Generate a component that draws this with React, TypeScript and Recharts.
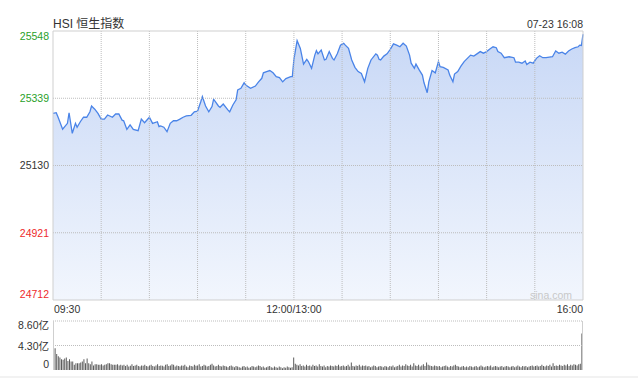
import React from 'react';
import { AreaChart, Area, XAxis, YAxis, ReferenceLine, BarChart, Bar } from 'recharts';

// ---- data ----
const minutes = [0,2,3,6,9,10,12,14,15,17,19,21,23,24,26,28,30,32,34,37,39,41,43,44,46,48,50,53,55,57,60,62,65,66,67,69,71,73,75,77,79,81,83,86,88,90,92,93,95,97,99,100,103,104,106,109,110,112,114,115,117,119,120,123,126,128,130,131,133,135,137,139,141,143,145,148,149,150,152,154,156,158,159,161,163,164,165,167,169,170,172,174,175,177,179,181,182,184,186,188,190,192,194,196,198,201,202,203,204,206,208,210,212,214,216,218,220,222,223,225,226,228,230,231,233,234,236,238,240,241,243,246,247,249,250,252,254,256,258,260,262,264,266,268,270,272,274,276,277,279,281,284,287,288,290,292,294,295,297,299,301,303,305,307,309,311,313,315,317,319,321,323,325,327,328,329,330];
const prices = [25292,25294,25282,25243,25261,25294,25230,25261,25249,25266,25280,25280,25297,25315,25305,25292,25274,25274,25287,25280,25290,25290,25271,25269,25242,25256,25242,25238,25274,25263,25280,25261,25266,25251,25253,25249,25235,25261,25269,25269,25274,25280,25284,25286,25297,25299,25328,25344,25315,25297,25313,25336,25315,25311,25321,25302,25297,25318,25334,25365,25370,25387,25380,25370,25377,25390,25401,25418,25422,25425,25418,25406,25403,25390,25400,25406,25406,25460,25518,25494,25445,25460,25453,25432,25473,25487,25477,25489,25458,25460,25484,25463,25458,25477,25504,25510,25504,25494,25458,25435,25422,25416,25390,25432,25458,25477,25473,25460,25458,25470,25477,25491,25508,25504,25499,25510,25501,25473,25448,25432,25445,25427,25411,25387,25356,25390,25425,25418,25453,25437,25435,25427,25411,25390,25414,25422,25439,25453,25463,25473,25470,25477,25484,25479,25484,25492,25499,25496,25484,25479,25465,25468,25465,25451,25451,25448,25455,25444,25451,25448,25463,25471,25465,25465,25467,25468,25486,25479,25482,25476,25486,25492,25496,25499,25504,25503,25538];

const prevClose = 25130;
const yTicks = [24712, 24921, 25130, 25339, 25548];
const pctLabels = ['-1.66%', '-0.83%', '0.00%', '+0.83%', '+1.66%'];
const xTicks = [0, 30, 60, 90, 120, 150, 180, 210, 240, 270, 300, 330];
const xLabels: Record<number, string> = { 0: '09:30', 150: '12:00/13:00', 330: '16:00' };

// volume in 亿, one bar per minute 09:30..16:00
const volumes = [
  8.6,
  3.8, 2.8, 2.4, 2.2, 1.9, 1.8, 2.0, 2.2, 1.6, 1.9, 1.5, 1.5, 0.9, 1.2,
  1.2, 1.2, 1.3, 1.5, 1.9, 1.2, 2.0, 1.2, 1.0, 1.5, 0.8, 1.0, 1.0, 0.9, 0.9,
  1.0, 0.8, 0.9, 1.0, 1.2, 1.2, 1.0, 0.9, 0.9, 0.9, 1.0, 0.8, 0.9, 0.8, 0.9,
  0.7, 0.9, 0.6, 0.75, 1.0, 0.7, 0.8, 0.9, 0.7, 0.6, 0.8, 0.75, 0.9, 0.7, 0.6,
  0.8, 0.9, 0.7, 0.6, 0.8, 1.0, 0.7, 0.8, 0.75, 0.6, 0.9, 1.0, 0.7, 0.8, 1.0,
  0.9, 0.6, 0.8, 0.7, 0.6, 0.8, 0.75, 0.9, 0.6, 0.5, 0.8, 0.7, 0.6, 0.9, 0.75,
  0.8, 1.0, 0.6, 0.7, 0.9, 0.8, 0.6, 0.7, 0.9, 1.1, 0.8, 0.6, 0.7, 0.9, 0.7,
  0.6, 0.8, 0.7, 0.6, 0.5, 0.7, 0.8, 0.6, 0.5, 0.7, 0.6, 0.5, 0.4, 0.6, 0.7,
  0.5, 0.6, 0.4, 0.5, 0.7, 0.6, 0.5, 0.6, 0.8, 0.7, 0.5, 0.6, 0.4, 0.5, 0.6,
  0.7, 0.5, 0.4, 0.6, 0.5, 0.4, 0.6, 0.5, 0.3, 0.5, 0.4, 0.6, 0.5, 0.4, 0.5,
  2.2, 1.1, 0.9, 0.8, 1.0, 0.7, 0.8, 0.6, 0.9, 0.7, 0.8, 0.6, 0.9, 0.7, 0.8,
  0.6, 1.0, 0.7, 0.6, 0.8, 0.5, 0.7, 0.6, 0.8, 0.7, 0.6, 0.8, 0.7, 0.9, 0.6,
  0.7, 0.8, 0.6, 0.7, 0.9, 0.6, 1.3, 0.7, 0.6, 0.8, 0.7, 0.9, 0.6, 0.8, 0.7,
  0.8, 0.6, 0.7, 0.5, 0.6, 0.8, 0.7, 0.5, 0.6, 0.7, 0.6, 0.5, 0.7, 0.6, 0.5,
  0.7, 0.6, 0.8, 0.5, 0.6, 0.7, 0.9, 0.6, 0.8, 0.7, 1.0, 0.8, 0.7, 0.9, 0.6,
  1.2, 0.8, 0.7, 0.9, 0.6, 0.8, 1.0, 0.7, 1.3, 0.9, 0.8, 0.7, 0.6, 0.8, 0.7,
  0.6, 0.7, 0.5, 0.6, 0.7, 0.8, 0.6, 0.5, 0.7, 0.6, 0.8, 0.9, 0.7, 0.6, 0.5,
  0.6, 0.7, 0.5, 0.6, 0.5, 0.7, 0.6, 0.5, 0.6, 0.7, 0.5, 0.6, 0.8, 0.6, 0.5,
  0.6, 0.7, 0.6, 0.8, 0.5, 0.6, 0.7, 0.6, 0.5, 0.6, 0.7, 0.5, 0.6, 0.7, 0.6,
  0.5, 0.6, 0.7, 0.5, 0.6, 0.8, 0.6, 0.5, 0.7, 0.6, 0.7, 0.5, 0.6, 0.7, 0.8,
  0.6, 0.7, 0.8, 0.6, 0.7, 0.9, 0.7, 0.6, 0.8, 0.7, 0.9, 0.6, 1.2, 0.7, 0.8,
  0.7, 0.9, 0.8, 0.7, 0.9, 0.8, 1.0, 0.7, 0.9, 0.8, 1.0, 0.9, 0.8, 1.0, 1.1,
  6.4,
];
const volTicks = [0, 4.3, 8.6];
const volLabels = ['0', '4.30亿', '8.60亿'];

const title = 'HSI 恒生指数';
const stamp = '07-23 16:08';
const watermark = 'sina.com';

// ---- styles ----
const FONT = "'Liberation Sans', Arial, 'Noto Sans CJK SC', sans-serif";
const GREEN = '#2a9f2a';
const RED = '#ee2b2b';
const DARK = '#333333';
const GRID = '#bdbdbd';
const FRAME = '#cfcfcf';
const LINE = '#4a84e8';
const FS = 10.5;

const W = 638;
const LEFT = 53;
const RIGHT_W = 55;
const TOP = 31;
const PLOT_BOTTOM = 300;

const priceData = minutes.map((m, i) => ({ m, p: prices[i] }));
const volData = volumes.map((v, i) => ({ i, v }));
const innerX = xTicks.slice(1, -1);
const innerY = yTicks.slice(1, -1);

const LeftTick = (props: any) => {
  const { y, payload } = props;
  const v = payload.value as number;
  const idx = yTicks.indexOf(v);
  const shift = idx === yTicks.length - 1 ? 5 : idx === 0 ? -6 : 0;
  const color = v > prevClose ? GREEN : v < prevClose ? RED : DARK;
  return (
    <text x={LEFT - 4} y={y + shift + 3.8} textAnchor="end" fill={color} fontSize={FS} fontFamily={FONT}>
      {String(v)}
    </text>
  );
};

const RightTick = (props: any) => {
  const { y, payload } = props;
  const v = payload.value as number;
  const idx = yTicks.indexOf(v);
  const shift = idx === yTicks.length - 1 ? 5 : idx === 0 ? -6 : 0;
  const color = v > prevClose ? GREEN : v < prevClose ? RED : DARK;
  return (
    <text x={W - RIGHT_W + 6.5} y={y + shift + 3.8} textAnchor="start" fill={color} fontSize={FS} fontFamily={FONT}>
      {pctLabels[idx]}
    </text>
  );
};

const BottomTick = (props: any) => {
  const { x, payload } = props;
  const v = payload.value as number;
  const label = xLabels[v];
  if (!label) return <g />;
  const anchor = v === 0 ? 'start' : v === 330 ? 'end' : 'middle';
  const dx = v === 0 ? 1 : 0;
  return (
    <text x={x + dx} y={PLOT_BOTTOM + 12.8} textAnchor={anchor} fill={DARK} fontSize={FS} fontFamily={FONT}>
      {label}
    </text>
  );
};

const VolTick = (props: any) => {
  const { y, payload } = props;
  const v = payload.value as number;
  const idx = volTicks.indexOf(v);
  const shift = idx === 2 ? 4 : idx === 0 ? -6 : 1;
  return (
    <text x={LEFT - 4} y={y + shift + 3.8} textAnchor="end" fill={DARK} fontSize={FS} fontFamily={FONT}>
      {volLabels[idx]}
    </text>
  );
};

export default function App() {
  return (
    <div style={{ position: 'fixed', left: 0, top: 0, width: W, height: 378, background: '#fff', overflow: 'hidden' }}>
      <div style={{ position: 'absolute', left: 0, top: 0 }}>
        <AreaChart width={W} height={318} data={priceData} margin={{ top: TOP, right: 0, bottom: 0, left: 0 }}>
          <defs>
            <linearGradient id="hsiFill" x1="0" y1="0" x2="0" y2="1">
              <stop offset="0%" stopColor="#c8d8f6" />
              <stop offset="100%" stopColor="#f2f6fd" />
            </linearGradient>
          </defs>
          <XAxis
            dataKey="m"
            type="number"
            domain={[0, 330]}
            ticks={xTicks}
            interval={0}
            height={18}
            axisLine={false}
            tickLine={false}
            tick={BottomTick}
          />
          <YAxis
            yAxisId="left"
            orientation="left"
            width={LEFT}
            domain={[yTicks[0], yTicks[4]]}
            ticks={yTicks}
            interval={0}
            axisLine={false}
            tickLine={false}
            tick={LeftTick}
          />
          <YAxis
            yAxisId="right"
            orientation="right"
            width={RIGHT_W}
            domain={[yTicks[0], yTicks[4]]}
            ticks={yTicks}
            interval={0}
            axisLine={false}
            tickLine={false}
            tick={RightTick}
          />
          <Area
            yAxisId="left"
            type="linear"
            dataKey="p"
            stroke={LINE}
            strokeWidth={1.3}
            fill="url(#hsiFill)"
            fillOpacity={1}
            dot={false}
            activeDot={false}
            isAnimationActive={false}
          />
          {innerX.map((t) => (
            <ReferenceLine key={'vx' + t} yAxisId="left" x={t} stroke={GRID} strokeDasharray="1 1" />
          ))}
          {innerY.map((t) => (
            <ReferenceLine key={'hy' + t} yAxisId="left" y={t} stroke={GRID} strokeDasharray="1 1" />
          ))}
          <ReferenceLine yAxisId="left" x={0} stroke={FRAME} />
          <ReferenceLine yAxisId="left" x={330} stroke={FRAME} />
          <ReferenceLine yAxisId="left" y={yTicks[4]} stroke={FRAME} />
          <ReferenceLine yAxisId="left" y={yTicks[0]} stroke={FRAME} />
        </AreaChart>
      </div>

      <div style={{ position: 'absolute', left: 0, top: 300 }}>
        <BarChart width={W} height={78} data={volData} margin={{ top: 21, right: RIGHT_W, bottom: 8, left: 0 }} barCategoryGap={0}>
          <XAxis dataKey="i" hide />
          <YAxis
            width={LEFT}
            domain={[0, 8.6]}
            ticks={volTicks}
            interval={0}
            axisLine={false}
            tickLine={false}
            tick={VolTick}
          />
          <ReferenceLine y={8.6} stroke={GRID} strokeDasharray="1 1" />
          <ReferenceLine y={4.3} stroke={GRID} strokeDasharray="1 1" />
          <Bar dataKey="v" fill="#5c5c5c" barSize={1} isAnimationActive={false} />
        </BarChart>
      </div>
      <div style={{ position: 'absolute', left: LEFT, top: 321, width: 1, height: 49, background: FRAME }} />
      <div style={{ position: 'absolute', left: W - RIGHT_W - 1, top: 321, width: 1, height: 49, background: FRAME }} />
      <div style={{ position: 'absolute', left: 0, top: 376, width: W, height: 2, background: '#f2f2f2' }} />

      <svg width={W} height={378} style={{ position: 'absolute', left: 0, top: 0, pointerEvents: 'none' }}>
        <text x={LEFT} y={28} fontSize={12} fill={DARK} fontFamily={FONT}>{title}</text>
        <text x={W - RIGHT_W} y={27.5} fontSize={FS} fill={DARK} textAnchor="end" fontFamily={FONT}>{stamp}</text>
        <text x={W - RIGHT_W - 11} y={298.5} fontSize={FS} fill="#c8c8c8" textAnchor="end" fontFamily={FONT}>{watermark}</text>
      </svg>
    </div>
  );
}
